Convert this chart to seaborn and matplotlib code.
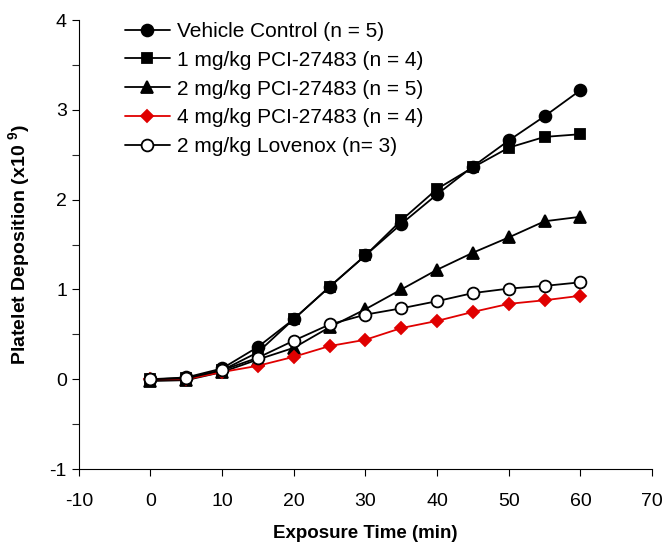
import pandas as pd
import seaborn as sns
import matplotlib.pyplot as plt

# exposure time (min)
TIME = [0, 5, 10, 15, 20, 25, 30, 35, 40, 45, 50, 55, 60]

VEHICLE   = [0.00, 0.02, 0.12, 0.36, 0.67, 1.03, 1.38, 1.73, 2.06, 2.37, 2.66, 2.93, 3.22]
PCI_1MG   = [0.00, 0.01, 0.10, 0.30, 0.67, 1.03, 1.38, 1.77, 2.12, 2.36, 2.58, 2.70, 2.73]
PCI_2MG   = [-0.02, -0.01, 0.08, 0.22, 0.35, 0.58, 0.78, 1.00, 1.22, 1.41, 1.58, 1.76, 1.81]
PCI_4MG   = [0.00, 0.00, 0.08, 0.15, 0.25, 0.37, 0.44, 0.57, 0.65, 0.75, 0.84, 0.88, 0.93]
LOVENOX   = [0.00, 0.01, 0.10, 0.24, 0.43, 0.61, 0.72, 0.79, 0.87, 0.96, 1.01, 1.04, 1.08]

LABELS = [
    "Vehicle Control (n = 5)",
    "1 mg/kg PCI-27483 (n = 4)",
    "2 mg/kg PCI-27483 (n = 5)",
    "4 mg/kg PCI-27483 (n = 4)",
    "2 mg/kg Lovenox (n= 3)",
]
SERIES = [VEHICLE, PCI_1MG, PCI_2MG, PCI_4MG, LOVENOX]

STYLES = [
    dict(marker="o", color="black", mfc="black", ms=8.5),
    dict(marker="s", color="black", mfc="black", ms=7),
    dict(marker="^", color="black", mfc="black", ms=9),
    dict(marker="D", color="#e00000", mfc="#e00000", ms=6.5),
    dict(marker="o", color="black", mfc="white", ms=8.5),
]


def main():
    sns.set_theme(style="ticks")
    plt.rcParams["font.family"] = ["Liberation Sans", "DejaVu Sans"]
    plt.rcParams["mathtext.fontset"] = "custom"
    plt.rcParams["mathtext.rm"] = "Liberation Sans"
    plt.rcParams["mathtext.bf"] = "Liberation Sans:bold"
    plt.rcParams["axes.unicode_minus"] = False
    plt.rcParams["text.color"] = "black"
    plt.rcParams["axes.labelcolor"] = "black"

    fig = plt.figure(figsize=(6.62, 5.46), dpi=100)
    ax = fig.add_axes([0.119, 0.141, 0.866, 0.822])

    for label, vals, st in zip(LABELS, SERIES, STYLES):
        df = pd.DataFrame({"t": TIME, "v": vals})
        sns.lineplot(
            data=df, x="t", y="v", ax=ax, label=label,
            color=st["color"], marker=st["marker"], markersize=st["ms"],
            markerfacecolor=st["mfc"], markeredgecolor="black" if st["color"] == "black" else st["color"],
            markeredgewidth=1.3, linewidth=1.3,
        )

    ax.set_xlim(-10, 70)
    ax.set_ylim(-1, 4)
    ax.set_xticks(range(-10, 71, 10))
    ax.set_yticks(range(-1, 5))
    ax.set_yticks([-0.5, 0.5, 1.5, 2.5, 3.5], minor=True)
    ax.tick_params(axis="both", labelsize=14, direction="out", length=5, width=0.8,
                   colors="black", labelcolor="black")
    ax.tick_params(axis="y", which="minor", length=5, width=0.8)
    ax.tick_params(axis="x", pad=12)
    for side in ("top", "right"):
        ax.spines[side].set_visible(False)
    for side in ("left", "bottom"):
        ax.spines[side].set_color("black")
        ax.spines[side].set_linewidth(0.8)

    ax.set_xlabel("Exposure Time (min)", fontsize=13.5, fontweight="bold", labelpad=11)
    ax.set_ylabel(r"Platelet Deposition (x10 $^{\mathbf{9}}$)", fontsize=14, fontweight="bold", labelpad=12)

    ax.legend(loc="upper left", bbox_to_anchor=(0.059, 1.024), frameon=False,
              fontsize=15, handlelength=2.15, handletextpad=0.35, labelspacing=0.47,
              borderaxespad=0.2)

    fig.savefig("out.png", dpi=100)


if __name__ == "__main__":
    main()
